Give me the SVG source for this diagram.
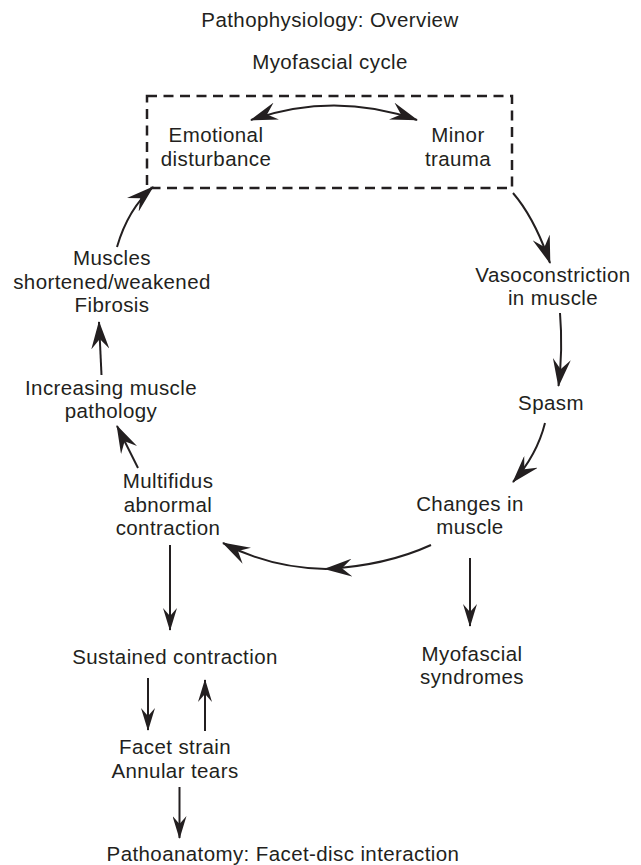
<svg xmlns="http://www.w3.org/2000/svg" width="641" height="865" viewBox="0 0 641 865">
<style>
  text { font-family: "Liberation Sans", Arial, Helvetica, sans-serif; font-size: 20.5px; letter-spacing: 0.4px; fill: #231f20; text-anchor: middle; }
  .conn { fill: none; stroke: #231f20; stroke-width: 2; }
  .big { marker-end: url(#headBig); }
  .small { marker-end: url(#headSmall); }
  .box { fill: none; stroke: #231f20; stroke-width: 2.5; stroke-dasharray: 10 6.5; }
</style>
<defs>
  <marker id="headBig" viewBox="0 0 28 18" refX="27" refY="9" markerWidth="28" markerHeight="18" markerUnits="userSpaceOnUse" orient="auto-start-reverse">
    <path d="M0,0 L28,9 L0,18 L10,9 Z" fill="#231f20"/>
  </marker>
  <marker id="headSmall" viewBox="0 0 23 14" refX="22" refY="7" markerWidth="23" markerHeight="14" markerUnits="userSpaceOnUse" orient="auto">
    <path d="M0,0 L23,7 L0,14 L8,7 Z" fill="#231f20"/>
  </marker>
</defs>
<rect width="641" height="865" fill="#ffffff"/>

<g id="title"><text x="330" y="27">Pathophysiology: Overview</text></g>
<g id="subtitle"><text x="330" y="69">Myofascial cycle</text></g>

<g id="trigger-box"><rect class="box" x="147" y="96" width="365" height="92"/></g>
<g id="emotional"><text x="216" y="142">Emotional</text><text x="216" y="166">disturbance</text></g>
<g id="minor-trauma"><text x="458" y="142">Minor</text><text x="458" y="166">trauma</text></g>
<g id="vasoconstriction"><text x="553" y="282">Vasoconstriction</text><text x="553" y="305">in muscle</text></g>
<g id="spasm"><text x="551" y="410">Spasm</text></g>
<g id="changes"><text x="470" y="511">Changes in</text><text x="470" y="534">muscle</text></g>
<g id="myofascial-syndromes"><text x="472" y="661">Myofascial</text><text x="472" y="684">syndromes</text></g>
<g id="multifidus"><text x="168" y="488">Multifidus</text><text x="168" y="512">abnormal</text><text x="168" y="535">contraction</text></g>
<g id="increasing"><text x="111" y="395">Increasing muscle</text><text x="111" y="418">pathology</text></g>
<g id="muscles"><text x="112" y="265">Muscles</text><text x="112" y="289">shortened/weakened</text><text x="112" y="312">Fibrosis</text></g>
<g id="sustained"><text x="175" y="664">Sustained contraction</text></g>
<g id="facet"><text x="175" y="754">Facet strain</text><text x="175" y="778">Annular tears</text></g>
<g id="pathoanatomy"><text x="283" y="861">Pathoanatomy: Facet-disc interaction</text></g>

<g id="connectors">
  <path class="conn big" style="marker-start:url(#headBig)" d="M251,120 Q334,91 417,120"/>
  <path class="conn big" d="M513,193 Q534.5,218 550,263"/>
  <path class="conn big" d="M560,313 Q563,350 558.5,386"/>
  <path class="conn big" d="M545,423 Q537,455 513,482"/>
  <path class="conn big" d="M431,545 Q385,566 325,569"/>
  <path class="conn big" d="M326,569 Q270,568 223,543"/>
  <path class="conn small" d="M470,558 L470,626"/>
  <path class="conn small" d="M170,545 L170,630"/>
  <path class="conn small" d="M148,678 L148,730"/>
  <path class="conn small" d="M205,731 L205,680"/>
  <path class="conn small" d="M179.5,787 L179.5,838"/>
  <path class="conn big" d="M138,468 L117,426"/>
  <path class="conn big" d="M101.5,375 L99,322"/>
  <path class="conn big" d="M117,247 Q128,209 153,187"/>
</g>
</svg>
